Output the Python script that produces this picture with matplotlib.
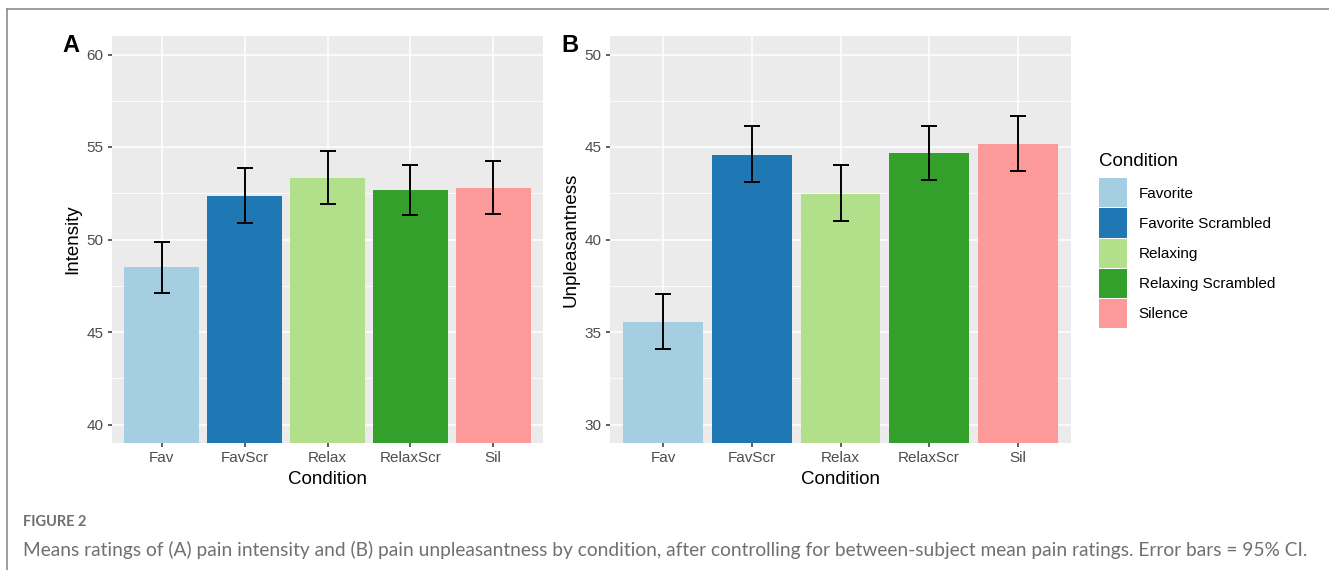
import numpy as np
import matplotlib
matplotlib.use("Agg")
import matplotlib.pyplot as plt
from matplotlib.patches import Patch
from matplotlib.lines import Line2D

# data
conds = ['Fav', 'FavScr', 'Relax', 'RelaxScr', 'Sil']
cond_names = ['Favorite', 'Favorite Scrambled', 'Relaxing', 'Relaxing Scrambled', 'Silence']
colors = ['#A6CEE3', '#1F78B4', '#B2DF8A', '#33A02C', '#FB9A99']

intensity = [48.50, 52.34, 53.30, 52.65, 52.76]
intensity_lo = [47.09, 50.90, 51.91, 51.33, 51.38]
intensity_hi = [49.85, 53.85, 54.79, 54.03, 54.27]

unpleas = [35.53, 44.59, 42.45, 44.66, 45.17]
unpleas_lo = [34.07, 43.10, 40.99, 43.19, 43.69]
unpleas_hi = [37.04, 46.12, 44.03, 46.12, 46.70]

plt.rcParams['font.family'] = ['Liberation Sans', 'DejaVu Sans']

W, H = 1329, 570
fig = plt.figure(figsize=(W / 100, H / 100), dpi=100)


def px_axes(left, right, top, bottom):
    return fig.add_axes([left / W, 1 - bottom / H, (right - left) / W, (bottom - top) / H])


def gg_panel(ax, vals, lo, hi, ylim, yticks, ylabel):
    x = np.arange(1, len(vals) + 1)
    ax.set_facecolor('#EBEBEB')
    for s in ax.spines.values():
        s.set_visible(False)
    minor = [(a + b) / 2 for a, b in zip(yticks[:-1], yticks[1:])]
    ax.set_yticks(yticks)
    ax.set_yticks(minor, minor=True)
    ax.set_xticks(x)
    ax.set_xticklabels(conds)
    ax.grid(True, which='major', color='white', linewidth=1.1)
    ax.grid(True, which='minor', axis='y', color='white', linewidth=0.55)
    ax.set_axisbelow(True)
    ax.bar(x, vals, width=0.9, color=colors, zorder=2)
    yerr = [np.array(vals) - np.array(lo), np.array(hi) - np.array(vals)]
    ax.errorbar(x, vals, yerr=yerr, fmt='none', ecolor='black', elinewidth=1.4,
                capsize=6, capthick=1.4, zorder=3)
    ax.set_xlim(0.4, len(vals) + 0.6)
    ax.set_ylim(*ylim)
    ax.tick_params(which='major', length=3, width=1.1, color='#333333',
                   labelsize=11, labelcolor='#4D4D4D', pad=3)
    ax.tick_params(which='minor', length=0)
    ax.set_xlabel('Condition', fontsize=13.5, labelpad=4)
    ax.set_ylabel(ylabel, fontsize=13.5, labelpad=4)


axA = px_axes(112, 543, 36, 443)
gg_panel(axA, intensity, intensity_lo, intensity_hi, (39, 61), [40, 45, 50, 55, 60], 'Intensity')
axB = px_axes(610, 1071, 36, 443)
gg_panel(axB, unpleas, unpleas_lo, unpleas_hi, (29, 51), [30, 35, 40, 45, 50], 'Unpleasantness')

fig.text(62 / W, 1 - 46 / H, 'A', fontsize=17, fontweight='bold', ha='left', va='center')
fig.text(561 / W, 1 - 46 / H, 'B', fontsize=17, fontweight='bold', ha='left', va='center')

# legend
handles = [Patch(facecolor=c, edgecolor='none') for c in colors]
leg = fig.legend(handles, cond_names, loc='upper left', bbox_to_anchor=(1099 / W, 1 - 153 / H),
                 frameon=False, title='Condition', fontsize=11, title_fontsize=13.5,
                 handlelength=1.85, handleheight=2.55, labelspacing=0.07, handletextpad=0.75,
                 borderpad=0, borderaxespad=0, alignment='left')
leg._legend_box.sep = 6

# outer frame lines
fig.add_artist(Line2D([7 / W, 1], [1 - 8.5 / H, 1 - 8.5 / H], color='#8C8C8C', linewidth=1.2))
fig.add_artist(Line2D([7 / W, 7 / W], [0, 1 - 8.5 / H], color='#8C8C8C', linewidth=1.2))

# caption
fig.text(23 / W, 1 - 522 / H, 'FIGURE 2', fontsize=10.5, color='#707070', fontweight='bold',
         family=['Lato', 'DejaVu Sans'], ha='left', va='center')
fig.text(23 / W, 1 - 550 / H,
         'Means ratings of (A) pain intensity and (B) pain unpleasantness by condition, after '
         'controlling for between-subject mean pain ratings. Error bars = 95% CI.',
         fontsize=13.8, color='#707070', family=['Lato', 'DejaVu Sans'], ha='left', va='center')

fig.savefig('out.png', dpi=100)
